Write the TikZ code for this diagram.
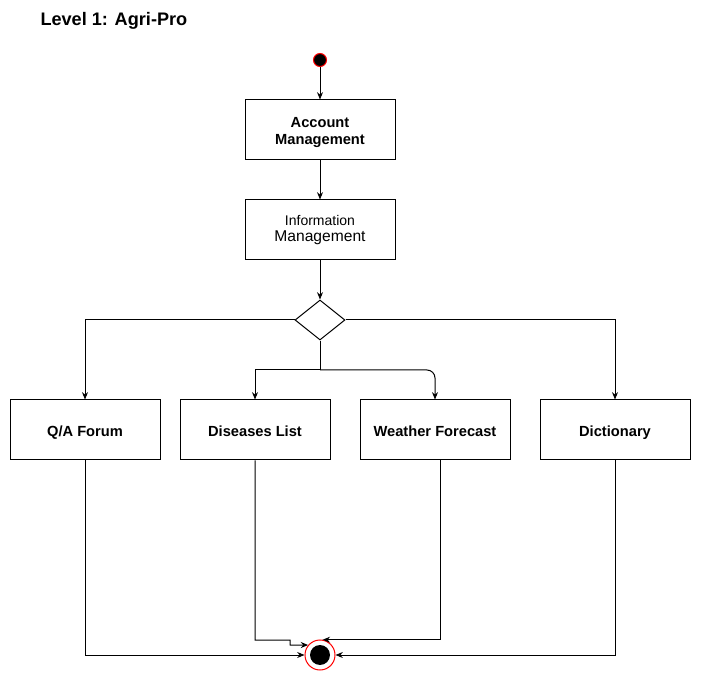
\documentclass[tikz,border=0pt]{standalone}
\usepackage{fontspec}
\setmainfont{Liberation Sans}
\usetikzlibrary{arrows.meta,shapes.geometric}
\begin{document}
\begin{tikzpicture}[x=0.75pt,y=-0.75pt,line width=0.75pt,
    activity/.style={draw,rectangle,minimum width=112.5pt,minimum height=45pt,
      align=center,font=\bfseries\fontsize{11}{12.5}\selectfont},
    oneline/.style={activity,text height=11pt,text depth=2pt},
    decision/.style={draw,diamond,minimum width=37.5pt,minimum height=30pt,inner sep=0pt},
    startstate/.style={draw=red,fill=black,circle,minimum size=9.75pt,inner sep=0pt},
    endstate/.style={draw=red,fill=white,circle,minimum size=22.5pt,inner sep=0pt,
      path picture={\fill[black] (path picture bounding box.center) circle (7.5pt);}},
    flow/.style={-{Stealth[length=5.5pt,width=4.5pt]}}]
  \useasboundingbox (0,0) rectangle (701,681);
  \node[anchor=base west,inner sep=0pt,font=\bfseries\fontsize{13.6}{15}\selectfont] (title) at (40,26) {Level 1: Agri-Pro};
  \node[startstate] (start) at (320,60) {};
  \node[activity] (acct) at (320,130) {};
  \node[align=center,font=\bfseries\fontsize{11}{12.5}\selectfont,yshift=-2pt] (acctlbl) at (acct) {Account\\Management};
  \node[activity,font=\fontsize{10.5}{12.5}\selectfont] (info) at (320,230)
    {Information\\{\fontsize{11.7}{12.5}\selectfont Management}};
  \node[decision] (dec) at (320,320) {};
  \coordinate (split) at (320,370);
  \node[oneline] (qa) at (85,430) {Q/A Forum};
  \node[oneline] (dis) at (255,430) {Diseases List};
  \node[oneline] (wf) at (435,430) {Weather Forecast};
  \node[oneline] (dict) at (615,430) {Dictionary};
  \node[endstate] (end) at (320,655) {};
  \begin{scope}[flow]
    \draw (start) -- (acct);
    \draw (acct) -- (info);
    \draw (info) -- (dec);
    \draw (dec.west) -| (qa);
    \draw (dec.east) -| (dict);
    \draw[-] (dec) -- (split);
    \draw (split) -| (dis);
    \draw[rounded corners=6pt] (split) -| (wf);
    \draw (qa) |- (end);
    \draw (dict) |- (end);
    \draw (dis) |- (290,640) -- (290,645) -- (end.140);
    \draw ([xshift=3.75pt]wf.south) |- (end.80);
  \end{scope}
\end{tikzpicture}
\end{document}
